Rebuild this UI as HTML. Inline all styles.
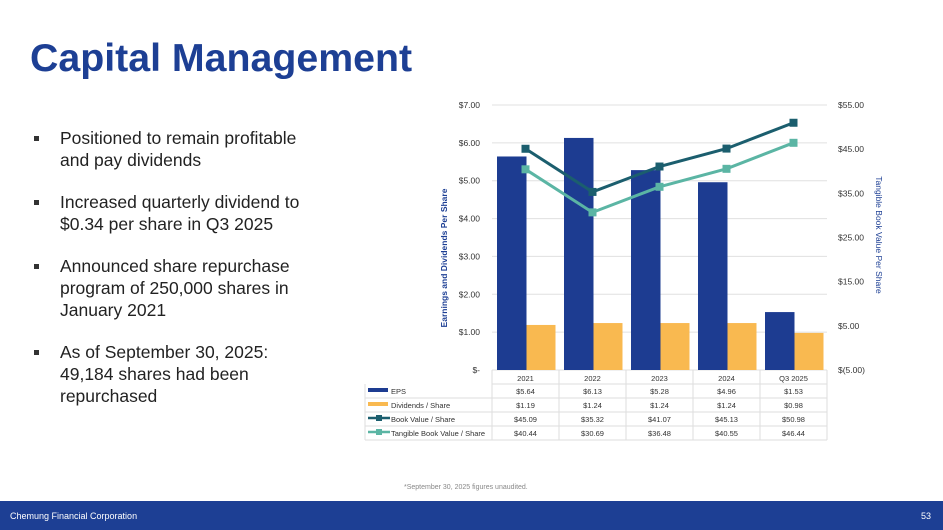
<!DOCTYPE html>
<html><head><meta charset="utf-8"><style>
body{margin:0;width:943px;height:530px;overflow:hidden;background:#fff;font-family:"Liberation Sans",sans-serif;position:relative}
#title{position:absolute;left:30px;top:36px;font-size:39.3px;font-weight:bold;color:#1d3f94;letter-spacing:0px;margin:0}
ul{position:absolute;left:32px;top:127px;margin:0;padding:0;list-style:none;width:300px}
li{position:relative;padding-left:28px;font-size:17.5px;line-height:22px;color:#222;margin-bottom:20px}
li:before{content:"";position:absolute;left:2px;top:9px;width:5px;height:5px;background:#333}
#footer{position:absolute;left:0;top:501px;width:943px;height:29px;background:#1d3f94;color:#fff;font-size:9px}
#foot-l{position:absolute;left:10px;top:10px}#foot-r{position:absolute;right:12px;top:10px}
#note{position:absolute;left:404px;top:484px;font-size:7px;color:#888}
svg{position:absolute;left:0;top:0}
</style></head><body>
<h1 id="title">Capital Management</h1>
<ul>
<li>Positioned to remain profitable<br>and pay dividends</li>
<li>Increased quarterly dividend to<br>$0.34 per share in Q3 2025</li>
<li>Announced share repurchase<br>program of 250,000 shares in<br>January 2021</li>
<li>As of September 30, 2025:<br>49,184 shares had been<br>repurchased</li>
</ul>
<svg id="chart" width="943" height="500"></svg>
<div id="note">*September 30, 2025 figures unaudited.</div>
<div id="footer"><span id="foot-l">Chemung Financial Corporation</span><span id="foot-r">53</span></div>
<script>
const categories=["2021","2022","2023","2024","Q3 2025"];
const eps=[5.64,6.13,5.28,4.96,1.53];
const dividends=[1.19,1.24,1.24,1.24,0.98];
const bookValue=[45.09,35.32,41.07,45.13,50.98];
const tangibleBV=[40.44,30.69,36.48,40.55,46.44];
const leftTicks=[0,1,2,3,4,5,6,7];
const leftLabels=["$-","$1.00","$2.00","$3.00","$4.00","$5.00","$6.00","$7.00"];
const rightTicks=[-5,5,15,25,35,45,55];
const rightLabels=["$(5.00)","$5.00","$15.00","$25.00","$35.00","$45.00","$55.00"];
const epsLabels=["$5.64","$6.13","$5.28","$4.96","$1.53"];
const divLabels=["$1.19","$1.24","$1.24","$1.24","$0.98"];
const bvLabels=["$45.09","$35.32","$41.07","$45.13","$50.98"];
const tbvLabels=["$40.44","$30.69","$36.48","$40.55","$46.44"];

const svg=document.getElementById('chart');const NS="http://www.w3.org/2000/svg";
const X0=492,X1=827,Y0=370,Y1=105;const cw=(X1-X0)/categories.length;
const yL=v=>Y0-(v/7)*(Y0-Y1);const yR=v=>Y0-((v+5)/60)*(Y0-Y1);
function mk(t,a,p){const e=document.createElementNS(NS,t);for(const k in a)e.setAttribute(k,a[k]);(p||svg).appendChild(e);return e;}
function txt(x,y,s,anchor,size,fill){const e=mk('text',{x:x,y:y,'text-anchor':anchor,'font-size':size,fill:fill||'#333','font-family':'Liberation Sans, sans-serif'});e.textContent=s;return e;}
leftTicks.forEach((v,i)=>{
 const g=mk('line',{x1:X0,x2:X1,y1:yL(v),y2:yL(v),stroke:'#e0e0e0','stroke-width':1});
 
 const t=txt(480,yL(v)+3,leftLabels[i],'end',8.5);
 
});
rightTicks.forEach((v,i)=>{const t=txt(838,yR(v)+3,rightLabels[i],'start',8.5);
 });
let yt=txt(0,0,'Earnings and Dividends Per Share','middle',8.5,'#1d3f94');yt.setAttribute('transform','translate(447,258) rotate(-90)');yt.setAttribute('font-weight','bold');

let rt=txt(0,0,'Tangible Book Value Per Share','middle',8.5,'#1d3f94');rt.setAttribute('transform','translate(876,235) rotate(90)');

categories.forEach((c,i)=>{const cx=X0+cw*i;
 const b=mk('rect',{x:cx+5,y:yL(eps[i]),width:29.5,height:Y0-yL(eps[i]),fill:'#1d3c91'});
 
 const d=mk('rect',{x:cx+34.5,y:yL(dividends[i]),width:29,height:Y0-yL(dividends[i]),fill:'#f9b950'});
 
});
function line(vals,color,name){const pts=vals.map((v,i)=>[X0+cw*(i+0.5),yR(v)]);
 const p=mk('polyline',{points:pts.map(p=>p.join(',')).join(' '),fill:'none',stroke:color,'stroke-width':3});
 
 pts.forEach(q=>{const m=mk('rect',{x:q[0]-4,y:q[1]-4,width:8,height:8,fill:color});
 });}
line(bookValue,'#1b5e6e','book-value');line(tangibleBV,'#5bb5a4','tangible-book-value');
const TL=365,TC=X0,rows=[384,398,412,426,440];
mk('line',{x1:TC,x2:TC,y1:370,y2:440,stroke:'#ddd'});
for(let i=0;i<=5;i++)mk('line',{x1:X0+cw*i,x2:X0+cw*i,y1:370,y2:440,stroke:'#ddd'});
rows.forEach(y=>mk('line',{x1:y===384?TC:TL,x2:X1,y1:y,y2:y,stroke:'#ddd'}));
mk('line',{x1:TL,x2:TL,y1:384,y2:440,stroke:'#ddd'});
categories.forEach((c,i)=>{const t=txt(X0+cw*(i+.5),381,c,'middle',7.5);});
const rowDefs=[["EPS",epsLabels,'#1d3c91','bar'],["Dividends / Share",divLabels,'#f9b950','bar'],["Book Value / Share",bvLabels,'#1b5e6e','line'],["Tangible Book Value / Share",tbvLabels,'#5bb5a4','line']];
rowDefs.forEach((r,j)=>{const y=rows[j]+10;
 if(r[3]==='bar')mk('rect',{x:368,y:y-6,width:20,height:4,fill:r[2]});
 else{mk('line',{x1:368,x2:390,y1:y-4,y2:y-4,stroke:r[2],'stroke-width':2.5});mk('rect',{x:376,y:y-7,width:6,height:6,fill:r[2]});}
 const l=txt(391,y,r[0],'start',7.5);
 r[1].forEach((v,i)=>{const t=txt(X0+cw*(i+.5),y,v,'middle',7.5);});
});
</script>
</body></html>
